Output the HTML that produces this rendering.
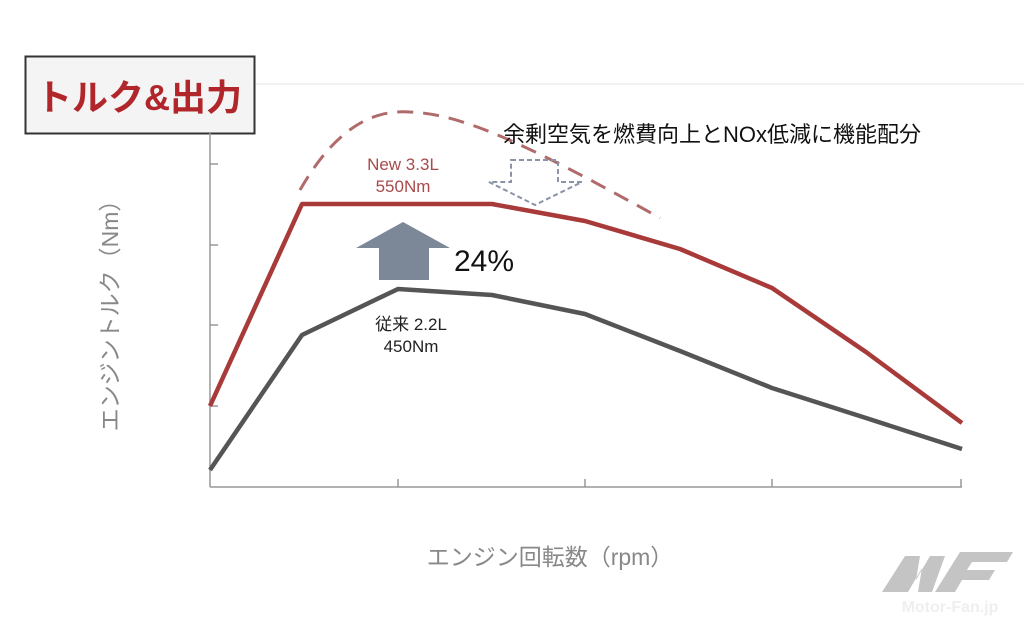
<!DOCTYPE html>
<html><head><meta charset="utf-8"><style>
body{margin:0;background:#fff;}
svg{display:block;font-family:"Liberation Sans","Noto Sans CJK JP",sans-serif;}
</style></head><body>
<svg width="1024" height="631" viewBox="0 0 1024 631">
<rect width="1024" height="631" fill="#fff"/>
<line x1="254" y1="84" x2="1024" y2="84" stroke="#e6e6e6" stroke-width="1"/>
<rect x="25.5" y="56.5" width="229" height="77" fill="#f4f4f4" stroke="#333" stroke-width="2"/>
<text x="139" y="110" font-size="36" font-weight="bold" fill="#b0262a" text-anchor="middle">トルク&amp;出力</text>
<g stroke="#999" stroke-width="1.5" fill="none">
<line x1="210" y1="133" x2="210" y2="487"/>
<line x1="210" y1="487" x2="962" y2="487"/>
<line x1="210" y1="164" x2="218" y2="164"/>
<line x1="210" y1="245" x2="218" y2="245"/>
<line x1="210" y1="325" x2="218" y2="325"/>
<line x1="210" y1="406" x2="218" y2="406"/>
<line x1="398" y1="487" x2="398" y2="479"/>
<line x1="585" y1="487" x2="585" y2="479"/>
<line x1="772" y1="487" x2="772" y2="479"/>
<line x1="961" y1="487" x2="961" y2="479"/>
</g>
<text transform="translate(118,310) rotate(-90)" font-size="23" fill="#888" text-anchor="middle">エンジントルク（Nm）</text>
<text x="550" y="565" font-size="23" fill="#888" text-anchor="middle">エンジン回転数（rpm）</text>
<path d="M300,190 C340,120 380,110 410,112 C460,114 520,140 660,218" fill="none" stroke="#b06a6a" stroke-width="3" stroke-dasharray="16,10"/>
<polyline points="210,406 302,204 492,204 585,221 680,249 772,288 866,352 962,423" fill="none" stroke="#a83a3a" stroke-width="4.5" stroke-linejoin="round"/>
<polyline points="210,470 302,335 398,289 492,295 585,314 680,351 772,388 866,418 962,449" fill="none" stroke="#555" stroke-width="4.5" stroke-linejoin="round"/>
<polygon points="379,280 429,280 429,248 450,248 403,222 356,248 379,248" fill="#7c8798"/>
<polygon points="511,160 558,160 558,182 582,182 535,205 489,182 511,182" fill="none" stroke="#8a93a8" stroke-width="2" stroke-dasharray="5,3"/>
<text x="454" y="271" font-size="30" fill="#111">24%</text>
<text x="403" y="170" font-size="17" fill="#a84a4a" text-anchor="middle">New 3.3L</text>
<text x="403" y="192" font-size="17" fill="#a84a4a" text-anchor="middle">550Nm</text>
<text x="411" y="330" font-size="17" fill="#222" text-anchor="middle">従来 2.2L</text>
<text x="411" y="352" font-size="17" fill="#222" text-anchor="middle">450Nm</text>
<text x="503" y="142" font-size="22" fill="#111">余剰空気を燃費向上とNOx低減に機能配分</text>
<g fill="#c4c4c4">
<polygon points="882,592 905,556 920,556 916,580 930,556 945,556 932,592 918,592 922,568 908,592"/>
<polygon points="935,592 960,552 1013,552 1007,562 972,562 967,570 995,570 989,580 962,580 955,592"/>
</g>
<text x="950" y="612" font-size="16" font-weight="bold" fill="#efefef" text-anchor="middle">Motor-Fan.jp</text>
</svg>
</body></html>
